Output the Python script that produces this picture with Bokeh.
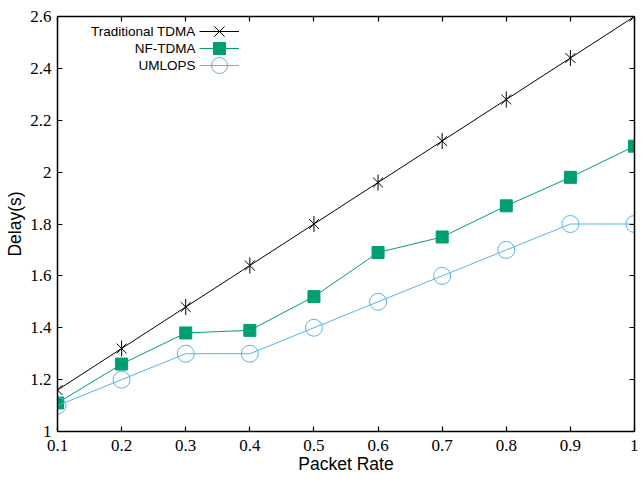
import math
from bokeh.plotting import figure
from bokeh.models import (FixedTicker, LinearAxis, Legend, LegendItem, Label, Range1d,
                          CustomLabelingPolicy)
from bokeh.embed import file_html
from bokeh.resources import INLINE

packet_rate = [0.1, 0.2, 0.3, 0.4, 0.5, 0.6, 0.7, 0.8, 0.9, 1.0]
traditional_tdma = [1.16, 1.32, 1.48, 1.64, 1.80, 1.96, 2.12, 2.28, 2.44, 2.60]
nf_tdma = [1.11, 1.26, 1.38, 1.39, 1.52, 1.69, 1.75, 1.87, 1.98, 2.10]
umlops = [1.10, 1.20, 1.30, 1.30, 1.40, 1.50, 1.60, 1.70, 1.80, 1.80]

series_names = ["Traditional TDMA", "NF-TDMA", "UMLOPS"]
x_ticks = [0.1, 0.2, 0.3, 0.4, 0.5, 0.6, 0.7, 0.8, 0.9, 1.0]
x_tick_labels = ["0.1", "0.2", "0.3", "0.4", "0.5", "0.6", "0.7", "0.8", "0.9", "1"]
y_ticks = [1.0, 1.2, 1.4, 1.6, 1.8, 2.0, 2.2, 2.4, 2.6]
y_tick_labels = ["1", "1.2", "1.4", "1.6", "1.8", "2", "2.2", "2.4", "2.6"]

GREEN = "#009E73"
BLUE = "#56B4E9"
SERIF = "Liberation Serif"
SANS = "Liberation Sans"

FRAME_W, FRAME_H = 577, 415
BL, BR, BT, BB = 57, 1, 16, 46

p = figure(frame_width=FRAME_W, frame_height=FRAME_H, output_backend="svg", toolbar_location=None,
           x_range=Range1d(0.1, 1.0), y_range=Range1d(1.0, 2.6),
           x_axis_label="Packet Rate", y_axis_label="Delay(s)",
           min_border_left=BL, min_border_right=BR, min_border_top=BT, min_border_bottom=BB)
p.grid.visible = False
p.outline_line_color = None
p.background_fill_color = "white"
p.border_fill_color = "white"

hide_labels = CustomLabelingPolicy(code="""
for (let i = 0; i < indices.size; i++) { indices.unset(i) }
return indices
""")

def style_axis(ax, ticks, labels, show_labels=True):
    ax.ticker = FixedTicker(ticks=ticks)
    ax.major_label_overrides = {t: l for t, l in zip(ticks, labels)}
    ax.major_tick_in = 5
    ax.major_tick_out = 0
    ax.minor_tick_line_color = None
    ax.axis_line_width = 1.5
    ax.axis_line_color = "black"
    ax.major_tick_line_width = 1.2
    ax.major_tick_line_color = "black"
    ax.major_label_text_font = SERIF
    ax.major_label_text_font_size = "17px"
    ax.major_label_text_color = "black"
    ax.axis_label_text_font = SANS
    ax.axis_label_text_font_size = "17.5px"
    ax.axis_label_text_font_style = "normal"
    ax.axis_label_text_color = "black"
    if not show_labels:
        ax.major_label_policy = hide_labels
        ax.major_label_text_font_size = "1px"
        ax.major_label_standoff = 0

xa = p.xaxis[0]
ya = p.yaxis[0]
style_axis(xa, x_ticks, x_tick_labels)
style_axis(ya, y_ticks, y_tick_labels)
xa.major_label_standoff = 8
xa.axis_label_standoff = 0
ya.major_label_standoff = 6
ya.axis_label_standoff = 2

top_ax = LinearAxis()
right_ax = LinearAxis()
style_axis(top_ax, x_ticks, x_tick_labels, show_labels=False)
style_axis(right_ax, y_ticks, y_tick_labels, show_labels=False)
p.add_layout(top_ax, "above")
p.add_layout(right_ax, "right")

# Traditional TDMA
l1 = p.line(packet_rate, traditional_tdma, line_color="black", line_width=1)
s1a = p.scatter(packet_rate, traditional_tdma, marker="x", size=14, line_color="black", line_width=1)
s1b = p.scatter(packet_rate, traditional_tdma, marker="dash", size=16, angle=math.pi / 2,
                line_color="black", line_width=1)
# NF-TDMA
l2 = p.line(packet_rate, nf_tdma, line_color=GREEN, line_width=1)
s2 = p.scatter(packet_rate, nf_tdma, marker="square", size=12, fill_color=GREEN, line_color=GREEN)
# UMLOPS
l3 = p.line(packet_rate, umlops, line_color=BLUE, line_width=1)
s3 = p.scatter(packet_rate, umlops, marker="circle", size=17, fill_color=None, line_color=BLUE, line_width=1)

ROW = 17
FIRST = 15          # px below frame top of the first legend row
GLYPH_W = 40
legend_renderers = [[l1, s1a, s1b], [l2, s2], [l3, s3]]
legend_glyph_h = [36, 30, 42]   # legend marker size = 0.4 * min(w, h)

for i, (name, rends, gh) in enumerate(zip(series_names, legend_renderers, legend_glyph_h)):
    c = FIRST + ROW * i
    lg = Legend(items=[LegendItem(label=" ", renderers=rends)],
                location=(142, FRAME_H - (c - gh / 2) - gh))
    lg.glyph_width = GLYPH_W
    lg.glyph_height = gh
    lg.label_height = gh
    lg.label_width = 0
    lg.label_standoff = 0
    lg.padding = 0
    lg.margin = 0
    lg.spacing = 0
    lg.border_line_color = None
    lg.background_fill_alpha = 0
    lg.label_text_font_size = "13px"
    p.add_layout(lg, "center")
    p.add_layout(Label(x=138, y=FRAME_H - c, x_units="screen", y_units="screen",
                       text=name, text_align="right", text_baseline="middle", text_font=SANS,
                       text_font_size="13.5px", text_color="black"))

open("out.html", "w").write(file_html(p, INLINE))
